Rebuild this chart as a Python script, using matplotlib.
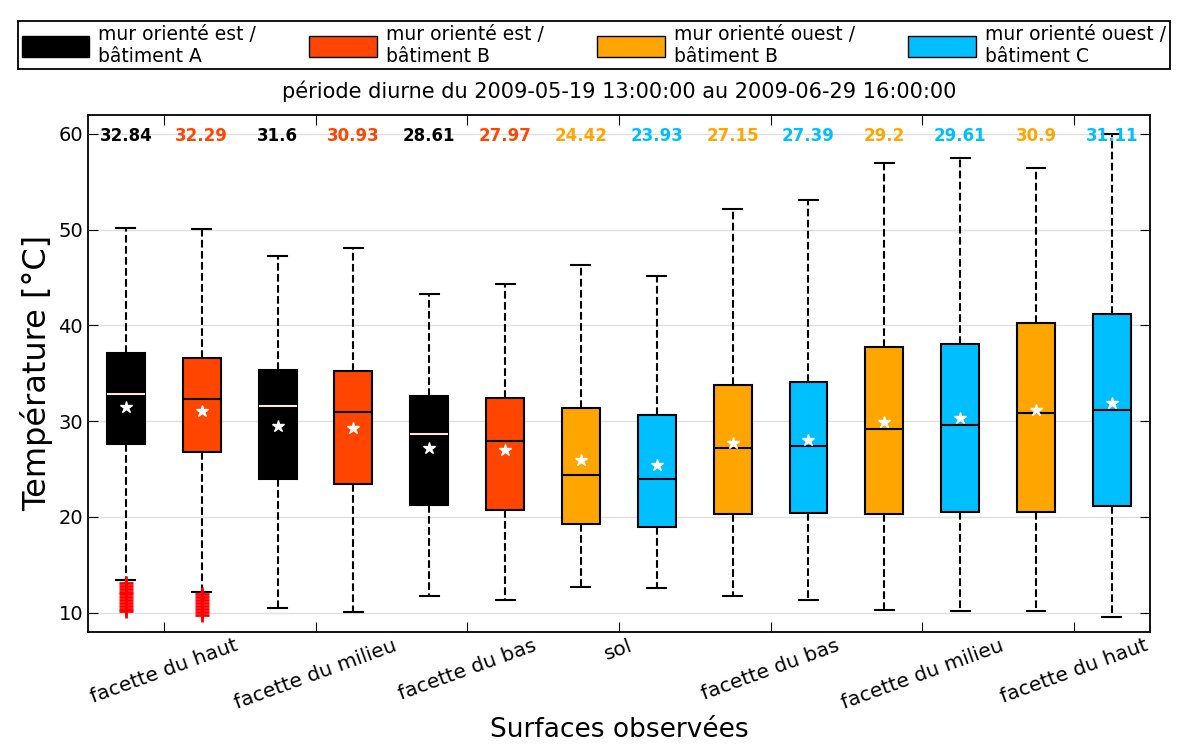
import matplotlib
matplotlib.use("Agg")
import matplotlib.pyplot as plt
from matplotlib.patches import Patch

# statistiques (°C)
medianes = [32.84, 32.29, 31.6, 30.93, 28.61, 27.97, 24.42,
            23.93, 27.15, 27.39, 29.2, 29.61, 30.9, 31.11]
q1 = [27.65, 26.82, 23.98, 23.43, 21.21, 20.76, 19.24,
      18.96, 20.28, 20.42, 20.28, 20.52, 20.52, 21.14]
q3 = [37.16, 36.57, 35.36, 35.19, 32.6, 32.39, 31.42,
      30.62, 33.77, 34.08, 37.72, 38.1, 40.21, 41.21]
moyennes = [31.52, 31.04, 29.52, 29.24, 27.23, 26.95, 25.95,
            25.47, 27.72, 28.0, 29.86, 30.28, 31.14, 31.87]
moustache_bas = [13.4, 12.2, 10.45, 10.1, 11.7, 11.35, 12.7,
                 12.6, 11.7, 11.35, 10.3, 10.2, 10.2, 9.6]
moustache_haut = [50.2, 50.05, 47.2, 48.1, 43.3, 44.3, 46.25,
                  45.1, 52.1, 53.1, 56.9, 57.5, 56.4, 59.97]
aberrants = [
    [13.1, 12.8, 12.5, 12.2, 11.9, 11.6, 11.3, 11.0, 10.7, 10.4, 10.2],
    [11.9, 11.6, 11.3, 11.0, 10.7, 10.4, 10.1, 9.8],
    [], [], [], [], [], [], [], [], [], [], [], [],
]
couleurs = ["black", "orangered", "black", "orangered", "black", "orangered",
            "orange", "deepskyblue", "orange", "deepskyblue",
            "orange", "deepskyblue", "orange", "deepskyblue"]
legende = ["mur orienté est /\nbâtiment A", "mur orienté est /\nbâtiment B",
           "mur orienté ouest /\nbâtiment B", "mur orienté ouest /\nbâtiment C"]
couleurs_legende = ["black", "orangered", "orange", "deepskyblue"]
surfaces = ["facette du haut", "facette du milieu", "facette du bas", "sol",
            "facette du bas", "facette du milieu", "facette du haut"]
titre = "période diurne du 2009-05-19 13:00:00 au 2009-06-29 16:00:00"

plt.rcParams["xtick.direction"] = "in"
plt.rcParams["ytick.direction"] = "in"

fig = plt.figure(figsize=(11.89, 7.54), dpi=100)
ax = fig.add_axes([0.074, 0.162, 0.893, 0.686])

stats = []
for i in range(len(medianes)):
    stats.append({"med": medianes[i], "q1": q1[i], "q3": q3[i],
                  "whislo": moustache_bas[i], "whishi": moustache_haut[i],
                  "mean": moyennes[i], "fliers": aberrants[i]})

positions = list(range(1, len(medianes) + 1))
bp = ax.bxp(stats, positions=positions, widths=0.5, patch_artist=True,
            showmeans=True, showfliers=True,
            boxprops=dict(edgecolor="black", linewidth=1.5),
            whiskerprops=dict(color="black", linestyle="--", linewidth=1.5),
            capprops=dict(color="black", linewidth=1.5),
            medianprops=dict(color="black", linewidth=1.5),
            meanprops=dict(marker="*", markerfacecolor="white",
                           markeredgecolor="white", markersize=9),
            flierprops=dict(marker="+", markeredgecolor="red",
                            markersize=10, markeredgewidth=2))

for boite, mediane, c in zip(bp["boxes"], bp["medians"], couleurs):
    boite.set_facecolor(c)
    if c == "black":
        mediane.set_color("mistyrose")

for x, m, c in zip(positions, medianes, couleurs):
    ax.text(x, 59.8, str(m), color=c, fontsize=12, fontweight="bold",
            ha="center", va="center")

ax.set_xlim(0.5, 14.5)
ax.set_ylim(8, 62)
ax.set_yticks([10, 20, 30, 40, 50, 60])
ax.set_xticks([1.5, 3.5, 5.5, 7.5, 9.5, 11.5, 13.5])
ax.set_xticklabels(surfaces, rotation=20, ha="center", fontsize=14.5)
ax.tick_params(axis="y", labelsize=14)
ax.tick_params(top=True, right=True, length=7)
ax.tick_params(axis="x", pad=3)
ax.yaxis.grid(True, color="#e0e0e0", linewidth=1)
ax.set_axisbelow(True)
for s in ax.spines.values():
    s.set_linewidth(1.3)

ax.set_ylabel("Température [°C]", fontsize=23)
ax.set_xlabel("Surfaces observées", fontsize=19, labelpad=3)
ax.set_title(titre, fontsize=15, pad=12)

poignees = [Patch(facecolor=c, edgecolor="black") for c in couleurs_legende]
leg = fig.legend(poignees, legende, loc="lower left", ncol=4, mode="expand",
                 bbox_to_anchor=(0.015, 0.908, 0.969, 0.068), fontsize=13.5,
                 handlelength=3.6, handleheight=1.3, borderaxespad=0,
                 fancybox=False, edgecolor="black", framealpha=1,
                 labelspacing=0.2, borderpad=0.2, handletextpad=0.5)
leg.get_frame().set_linewidth(1.3)

fig.savefig("out.png", dpi=100)
